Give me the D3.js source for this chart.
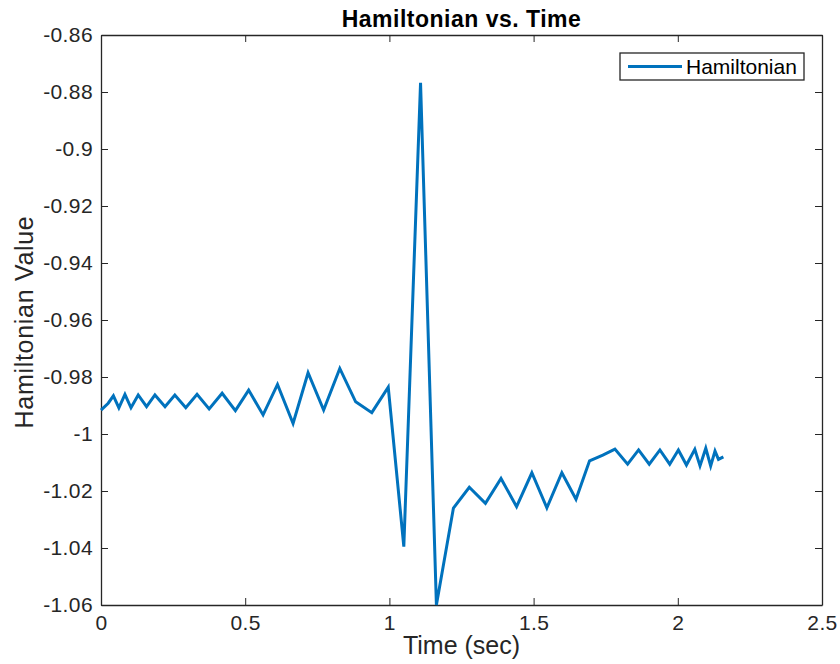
<!DOCTYPE html>
<html><head><meta charset="utf-8">
<script src="https://cdn.jsdelivr.net/npm/d3@7"></script>
<style>body{margin:0;background:#fff;} text{font-family:"Liberation Sans",Arial,Helvetica,sans-serif;}</style>
</head><body>
<svg id="chart" width="840" height="664"></svg>
<script>
const timeValues = [0, 0.025, 0.043, 0.062, 0.083, 0.104, 0.129, 0.158, 0.187, 0.222, 0.256, 0.294, 0.333, 0.375, 0.42, 0.466, 0.512, 0.562, 0.612, 0.666, 0.718, 0.772, 0.828, 0.883, 0.939, 0.996, 1.05, 1.108, 1.163, 1.222, 1.277, 1.333, 1.387, 1.441, 1.494, 1.546, 1.598, 1.647, 1.694, 1.74, 1.782, 1.826, 1.864, 1.901, 1.938, 1.972, 2.002, 2.03, 2.059, 2.077, 2.097, 2.114, 2.129, 2.141, 2.158];
const hamiltonianValues = [-0.9916, -0.9892, -0.9866, -0.9908, -0.9861, -0.9908, -0.9863, -0.9904, -0.9863, -0.9904, -0.9863, -0.9908, -0.9861, -0.9912, -0.9857, -0.9918, -0.9846, -0.9933, -0.9826, -0.9963, -0.9785, -0.9916, -0.9770, -0.9887, -0.9925, -0.9836, -1.0395, -0.8768, -1.0600, -1.0260, -1.0187, -1.0243, -1.0156, -1.0255, -1.0136, -1.0259, -1.0136, -1.0229, -1.0094, -1.0074, -1.0053, -1.0106, -1.0056, -1.0106, -1.0056, -1.0106, -1.0056, -1.0109, -1.0054, -1.0112, -1.0050, -1.0112, -1.0060, -1.0089, -1.0080];
const xTicks = [0, 0.5, 1, 1.5, 2, 2.5];
const yTicks = [-0.86, -0.88, -0.9, -0.92, -0.94, -0.96, -0.98, -1, -1.02, -1.04, -1.06];
const seriesName = "Hamiltonian";

const svg = d3.select("#chart");
const L = 101, R = 822, T = 35, B = 605;
const x = d3.scaleLinear().domain([0, 2.5]).range([L, R]);
const y = d3.scaleLinear().domain([-1.06, -0.86]).range([B, T]);
const axisColor = "#262626";
const fmt = d => String(+d.toFixed(2));

// axes
const gx = svg.append("g").attr("transform", `translate(0,${B})`)
  .call(d3.axisBottom(x).tickValues(xTicks).tickFormat(fmt).tickSizeInner(-7).tickSizeOuter(0).tickPadding(10));
const gxt = svg.append("g").attr("transform", `translate(0,${T})`)
  .call(d3.axisTop(x).tickValues(xTicks).tickFormat("").tickSizeInner(-7).tickSizeOuter(0));
const gy = svg.append("g").attr("transform", `translate(${L},0)`)
  .call(d3.axisLeft(y).tickValues(yTicks).tickFormat(fmt).tickSizeInner(-7).tickSizeOuter(0).tickPadding(8));
const gyr = svg.append("g").attr("transform", `translate(${R},0)`)
  .call(d3.axisRight(y).tickValues(yTicks).tickFormat("").tickSizeInner(-7).tickSizeOuter(0));
[gx, gxt, gy, gyr].forEach(g => {
  g.selectAll("path.domain").attr("stroke", axisColor).attr("stroke-width", 1.3);
  g.selectAll(".tick line").attr("stroke", axisColor).attr("stroke-width", 1);
  g.selectAll(".tick text").attr("fill", "#262626").style("font-size", "21px").style("letter-spacing", "0.4px");
});
gx.selectAll(".tick text").attr("dy", "0.71em");

// line
const data = timeValues.map((t, i) => ({t, v: hamiltonianValues[i]}));
svg.append("path").datum(data)
  .attr("fill", "none").attr("stroke", "#0072BD").attr("stroke-width", 3).attr("stroke-linejoin", "miter")
  .attr("d", d3.line().x(d => x(d.t)).y(d => y(d.v)));

// title and labels
svg.append("text").attr("x", (L + R) / 2).attr("y", 27).attr("text-anchor", "middle")
  .style("font-size", "23px").style("font-weight", "bold").style("letter-spacing", "0.5px").attr("fill", "#000").text("Hamiltonian vs. Time");
svg.append("text").attr("x", (L + R) / 2).attr("y", 654).attr("text-anchor", "middle")
  .style("font-size", "25px").attr("fill", "#262626").text("Time (sec)");
svg.append("text").attr("transform", `translate(33,${(T + B) / 2 + 2}) rotate(-90)`).attr("text-anchor", "middle")
  .style("font-size", "25px").style("letter-spacing", "0.7px").attr("fill", "#262626").text("Hamiltonian Value");

// legend
const lg = svg.append("g");
lg.append("rect").attr("x", 620).attr("y", 53).attr("width", 184).attr("height", 27)
  .attr("fill", "#fff").attr("stroke", axisColor).attr("stroke-width", 1.3);
lg.append("line").attr("x1", 628).attr("x2", 682).attr("y1", 66.5).attr("y2", 66.5)
  .attr("stroke", "#0072BD").attr("stroke-width", 3);
lg.append("text").attr("x", 686).attr("y", 74).style("font-size", "21px").attr("fill", "#000").text(seriesName);
</script>
</body></html>
